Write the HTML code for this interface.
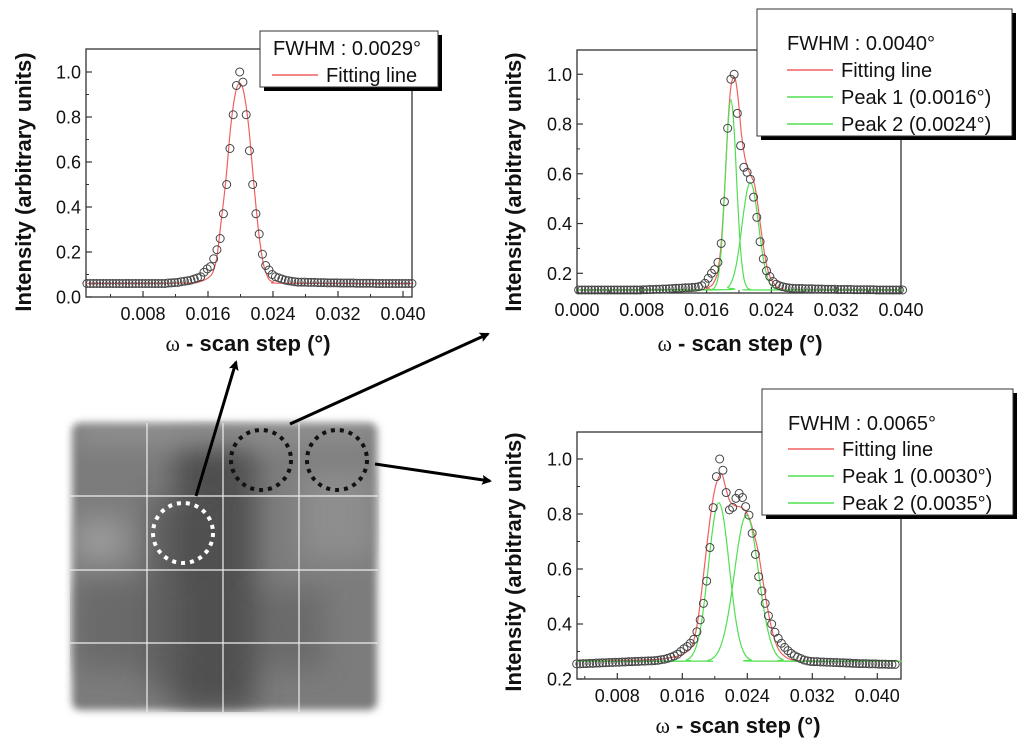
<!DOCTYPE html>
<html><head><meta charset="utf-8"><style>
html,body{margin:0;padding:0;background:#fff;}
svg{display:block;font-family:"Liberation Sans",sans-serif;}
</style></head><body>
<svg id="fig" width="1024" height="746" viewBox="0 0 1024 746" xmlns="http://www.w3.org/2000/svg">
<defs>
<filter id="blur" x="-10%" y="-10%" width="120%" height="120%"><feGaussianBlur stdDeviation="4"/></filter>
<filter id="blur2" x="-30%" y="-30%" width="160%" height="160%"><feGaussianBlur stdDeviation="14"/></filter>
<clipPath id="imgclip"><rect x="70" y="421" width="309" height="291" rx="10"/></clipPath>
<marker id="ah" markerWidth="10" markerHeight="10" refX="8" refY="5" orient="auto" markerUnits="userSpaceOnUse"><path d="M0,0 L10,5 L0,10 L2,5 Z" fill="#000"/></marker>
</defs>
<g>
  <rect x="72" y="423" width="305" height="287" rx="8" fill="#7c7c7c" filter="url(#blur)"/>
  <g filter="url(#blur2)" clip-path="url(#imgclip)">
    <rect x="175" y="440" width="80" height="270" fill="#404040" opacity="0.75"/>
    <rect x="145" y="500" width="70" height="190" fill="#505050" opacity="0.6"/>
    <rect x="75" y="580" width="110" height="90" fill="#5e5e5e" opacity="0.6"/>
    <rect x="300" y="470" width="75" height="90" fill="#9a9a9a" opacity="0.6"/>
    <rect x="75" y="520" width="50" height="40" fill="#b0b0b0" opacity="0.6"/>
    <rect x="255" y="590" width="70" height="80" fill="#5a5a5a" opacity="0.5"/>
    <rect x="75" y="425" width="300" height="12" fill="#c4c4c4" opacity="0.6"/>
  </g>
  <g stroke="#eee" stroke-width="1.2">
    <line x1="147" y1="423" x2="147" y2="712"/><line x1="223" y1="423" x2="223" y2="712"/><line x1="299" y1="423" x2="299" y2="712"/>
    <line x1="70" y1="496" x2="378" y2="496"/><line x1="70" y1="570" x2="378" y2="570"/><line x1="70" y1="643" x2="378" y2="643"/>
  </g>
  <circle cx="183" cy="533" r="30" fill="none" stroke="#fff" stroke-width="4" stroke-dasharray="4,5"/>
  <circle cx="261" cy="460" r="30" fill="none" stroke="#111" stroke-width="4" stroke-dasharray="4,5"/>
  <circle cx="337" cy="460" r="30" fill="none" stroke="#111" stroke-width="4" stroke-dasharray="4,5"/>
</g>
<g stroke="#000" stroke-width="3" fill="none">
  <line x1="196" y1="496" x2="236" y2="362" marker-end="url(#ah)"/>
  <line x1="290" y1="424" x2="488" y2="334" marker-end="url(#ah)"/>
  <line x1="375" y1="464" x2="490" y2="481" marker-end="url(#ah)"/>
</g>
</svg>
<script>
// ---- Data (x in units of 0.0001 degree) ----
const c1X = [11,15,19,23,27,31,35,39,43,47,51,55,59,63,67,71,75,79,83,87,91,95,99,103,107,111,115,119,123,127,131,135,139,143,147,151,155,159,163,167,171,175,179,183,187,191,195,199,203,207,211,215,219,223,227,231,235,239,243,247,251,255,259,263,267,271,275,279,283,287,291,295,299,303,307,311,315,319,323,327,331,335,339,343,347,351,355,359,363,367,371,375,379,383,387,391,395,399,403,407,411];
const c1Y = [.06,.06,.06,.06,.06,.06,.06,.06,.06,.06,.06,.06,.06,.06,.06,.06,.06,.06,.06,.06,.06,.06,.06,.06,.06,.062,.063,.064,.065,.068,.07,.072,.075,.08,.085,.09,.11,.125,.135,.17,.21,.26,.37,.50,.66,.81,.94,1.0,.955,.81,.65,.50,.37,.28,.19,.14,.12,.10,.09,.085,.08,.075,.072,.07,.068,.066,.066,.066,.065,.065,.065,.064,.064,.064,.063,.063,.063,.063,.062,.062,.062,.062,.062,.061,.061,.061,.061,.061,.061,.06,.06,.06,.06,.06,.06,.06,.06,.06,.06,.06,.06];
const c1FitX = [11,130,150,160,166,171,176,182,188,194,199,204,210,216,222,228,234,240,255,411];
const c1FitY = [.06,.062,.068,.085,.11,.18,.33,.52,.76,.91,.95,.91,.76,.52,.30,.15,.085,.068,.061,.06];

const c2X = [2,6,10,14,18,22,26,30,34,38,42,46,50,54,58,62,66,70,74,78,82,86,90,94,98,102,106,110,114,118,122,126,130,134,138,142,146,150,154,158,162,166,170,174,178,182,186,190,194,198,202,206,210,214,218,222,226,230,234,238,242,246,250,254,258,262,266,270,274,278,282,286,290,294,298,302,306,310,314,318,322,326,330,334,338,342,346,350,354,358,362,366,370,374,378,382,386,390,394,398,402];
const c2Y = [.133,.133,.133,.133,.133,.133,.133,.133,.133,.133,.133,.133,.133,.133,.133,.133,.133,.133,.133,.133,.134,.134,.135,.135,.136,.136,.137,.137,.138,.139,.14,.14,.141,.142,.142,.143,.144,.146,.15,.16,.18,.2,.215,.244,.32,.488,.783,.98,1.0,.843,.713,.626,.606,.578,.506,.425,.327,.258,.21,.187,.167,.156,.15,.146,.143,.141,.14,.139,.139,.139,.138,.138,.138,.137,.137,.137,.136,.136,.136,.136,.135,.135,.135,.135,.135,.134,.134,.134,.134,.134,.134,.134,.133,.133,.133,.133,.133,.133,.133,.133,.133];
const c2FitX = [2,150,160,166,170,174,178,182,186,190,195,199,203,207,211,215,219,223,227,231,235,239,243,247,255,265,402];
const c2FitY = [.133,.135,.14,.15,.17,.21,.32,.52,.78,.95,.984,.90,.76,.67,.62,.59,.56,.48,.38,.29,.22,.18,.16,.145,.136,.133,.133];
const c2P1X = [2,160,166,170,174,178,182,186,190,194,198,202,206,210,214,220,402];
const c2P1Y = [.133,.133,.135,.143,.181,.293,.515,.776,.897,.776,.515,.293,.181,.143,.135,.133,.133];
const c2P2X = [2,180,186,190,194,198,202,206,210,214,218,222,226,230,234,238,242,248,260,402];
const c2P2Y = [.133,.134,.143,.16,.196,.259,.349,.451,.533,.565,.533,.451,.349,.259,.196,.16,.143,.135,.133,.133];

const c3X = [30,34,38,42,46,50,54,58,62,66,70,74,78,82,86,90,94,98,102,106,110,114,118,122,126,130,134,138,142,146,150,154,158,162,166,170,174,178,182,186,190,194,198,202,206,210,214,218,222,226,230,234,238,242,246,250,254,258,262,266,270,274,278,282,286,290,294,298,302,306,310,314,318,322,326,330,334,338,342,346,350,354,358,362,366,370,374,378,382,386,390,394,398,402,406,410,414,418,422];
const c3Y = [.255,.255,.256,.256,.257,.257,.258,.258,.259,.259,.26,.26,.261,.261,.262,.262,.263,.263,.264,.264,.265,.265,.266,.266,.267,.268,.27,.272,.275,.279,.284,.29,.30,.31,.318,.33,.344,.372,.415,.475,.556,.678,.823,.936,1.0,.959,.878,.815,.824,.857,.875,.86,.827,.796,.73,.653,.572,.52,.475,.43,.40,.37,.348,.33,.315,.303,.293,.285,.279,.274,.269,.266,.264,.263,.263,.262,.262,.261,.261,.26,.26,.259,.259,.258,.258,.257,.257,.256,.256,.256,.255,.255,.255,.254,.254,.254,.253,.253,.253];
const c3FitX = [30,120,150,160,170,175,180,185,190,195,200,205,209,213,218,222,226,232,238,243,248,253,258,263,268,273,278,285,295,320,430];
const c3FitY = [.265,.27,.28,.29,.31,.35,.43,.55,.68,.80,.89,.935,.944,.9,.85,.835,.829,.825,.81,.78,.73,.67,.58,.49,.41,.35,.31,.285,.27,.265,.265];
const c3P1X = [30,160,165,170,175,180,185,190,195,200,205,210,215,220,225,230,235,240,245,250,430];
const c3P1Y = [.265,.265,.269,.278,.301,.349,.433,.553,.688,.798,.841,.798,.688,.553,.433,.349,.301,.278,.269,.265,.265];
const c3P2X = [30,185,189,194,199,204,209,214,219,224,229,234,239,244,249,254,259,264,269,274,279,284,289,430];
const c3P2Y = [.265,.265,.265,.27,.279,.298,.335,.395,.48,.584,.688,.767,.796,.767,.688,.584,.48,.395,.335,.298,.279,.27,.265,.265];

const c1XTicks = ['0.008','0.016','0.024','0.032','0.040'];
const c1YTicks = ['0.0','0.2','0.4','0.6','0.8','1.0'];
const c2XTicks = ['0.000','0.008','0.016','0.024','0.032','0.040'];
const c2YTicks = ['0.2','0.4','0.6','0.8','1.0'];
const c3XTicks = ['0.008','0.016','0.024','0.032','0.040'];
const c3YTicks = ['0.2','0.4','0.6','0.8','1.0'];

const NS='http://www.w3.org/2000/svg';
const svg=document.getElementById('fig');
function mk(tag,attrs,parent){const e=document.createElementNS(NS,tag);for(const k in attrs)e.setAttribute(k,attrs[k]);(parent||svg).appendChild(e);return e;}
function smooth(pts){let d='M'+pts[0][0].toFixed(2)+','+pts[0][1].toFixed(2);
  for(let i=0;i<pts.length-1;i++){const p0=pts[i-1]||pts[i],p1=pts[i],p2=pts[i+1],p3=pts[i+2]||p2;
    const c1x=p1[0]+(p2[0]-p0[0])/6,c1y=p1[1]+(p2[1]-p0[1])/6,c2x=p2[0]-(p3[0]-p1[0])/6,c2y=p2[1]-(p3[1]-p1[1])/6;
    d+=' C'+c1x.toFixed(2)+','+c1y.toFixed(2)+' '+c2x.toFixed(2)+','+c2y.toFixed(2)+' '+p2[0].toFixed(2)+','+p2[1].toFixed(2);}
  return d;}

function chart(cfg){
  const g=mk('g',{});
  
  
  const X=v=>cfg.x0+v*1e-4*cfg.xs, Y=v=>cfg.yb-(v-cfg.ymin)*cfg.ys;
  const fr=mk('rect',{x:cfg.L,y:cfg.T,width:cfg.R-cfg.L,height:cfg.B-cfg.T,fill:'none',stroke:'#333','stroke-width':1.3},g);
  
  
  cfg.xt.forEach(t=>{const v=parseFloat(t)*1e4;const px=X(v);
    mk('line',{x1:px,y1:cfg.B,x2:px,y2:cfg.B-6,stroke:'#333','stroke-width':1.2},g);
    const mx=X(v+40); if(mx<cfg.R-2) mk('line',{x1:mx,y1:cfg.B,x2:mx,y2:cfg.B-3,stroke:'#333'},g);
    const mx2=X(v-40); if(mx2>cfg.L+2&&cfg.xt.indexOf(t)===0) mk('line',{x1:mx2,y1:cfg.B,x2:mx2,y2:cfg.B-3,stroke:'#333'},g);
    const tx=mk('text',{x:px,y:cfg.B+23,'font-size':18,'text-anchor':'middle',fill:'#111'},g);tx.textContent=t;
    
    });
  cfg.yt.forEach(t=>{const v=parseFloat(t);const py=Y(v);
    mk('line',{x1:cfg.L,y1:py,x2:cfg.L+6,y2:py,stroke:'#333','stroke-width':1.2},g);
    const my=Y(v+0.1); if(my>cfg.T+2) mk('line',{x1:cfg.L,y1:my,x2:cfg.L+3,y2:my,stroke:'#333'},g);
    const ty=mk('text',{x:cfg.L-5,y:py+6.5,'font-size':18,'text-anchor':'end',fill:'#111'},g);ty.textContent=t;
    
    });
  cfg.lines.forEach(ln=>{const pts=ln.x.map((v,i)=>[X(v),Y(ln.y[i])]);
    const p=mk('path',{d:smooth(pts),fill:'none',stroke:ln.c,'stroke-width':1.2},g);
    
    });
  const pg=mk('g',{},g);
  
  
  cfg.px.forEach((v,i)=>{const c=mk('circle',{cx:X(v),cy:Y(cfg.py[i]),r:4,fill:'none',stroke:'#444','stroke-width':1},pg);
    
    });
  const yt=mk('text',{x:0,y:0,transform:'translate('+cfg.ytx+','+cfg.yty+') rotate(-90)','font-size':22,'font-weight':'bold','text-anchor':'middle',fill:'#111'},g);
  yt.textContent='Intensity (arbitrary units)';
  
  
  const xt=mk('text',{x:cfg.xtx,y:cfg.xty,'font-size':22,'font-weight':'bold','text-anchor':'middle',fill:'#111'},g);
  xt.innerHTML='<tspan font-family="Liberation Serif, serif" font-weight="normal">ω</tspan> - scan step (°)';
  
  
  const lg=mk('g',{},g);
  
  
  const b=cfg.leg;
  mk('rect',{x:b.x+4,y:b.y+4,width:b.w,height:b.h,fill:'#000'},lg);
  mk('rect',{x:b.x,y:b.y,width:b.w,height:b.h,fill:'#fff',stroke:'#333','stroke-width':1},lg);
  const ft=mk('text',{x:b.tx0,y:b.fy,'font-size':20,fill:'#111'},lg);ft.textContent=b.fw;
  
  
  b.rows.forEach((r,i)=>{const yy=b.ry+i*27;
    mk('line',{x1:b.lx,y1:yy,x2:b.lx+46,y2:yy,stroke:r.c,'stroke-width':1.5},lg);
    const t=mk('text',{x:b.lx+54,y:yy+7,'font-size':20,fill:'#111'},lg);t.textContent=r.t;
    
    });
}
const RED='#f06060',GRN='#50e050';
chart({name:'chart-single-peak',L:86,R:412,T:49,B:297,x0:78,xs:65/0.008,yb:297,ymin:0,ys:225,
  xt:c1XTicks,yt:c1YTicks,px:c1X,py:c1Y,
  lines:[{x:c1FitX,y:c1FitY,c:RED,name:'fitting-line'}],
  ytx:31,yty:182,xtx:248,xty:351,
  leg:{x:260,y:31,w:178,h:56,tx0:273,fy:55,fw:'FWHM : 0.0029°',lx:272,ry:75,rows:[{t:'Fitting line',c:RED}]}});
chart({name:'chart-double-peak-a',L:577,R:901,T:50,B:293,x0:577,xs:324/0.04,yb:273.3,ymin:0.2,ys:248.8,
  xt:c2XTicks,yt:c2YTicks,px:c2X,py:c2Y,
  lines:[{x:c2FitX,y:c2FitY,c:RED,name:'fitting-line'},{x:c2P1X,y:c2P1Y,c:GRN,name:'peak-1-line'},{x:c2P2X,y:c2P2Y,c:GRN,name:'peak-2-line'}],
  ytx:521,yty:182,xtx:740,xty:351,
  leg:{x:757,y:9,w:255,h:127,tx0:787,fy:50,fw:'FWHM : 0.0040°',lx:787,ry:70,rows:[{t:'Fitting line',c:RED},{t:'Peak 1 (0.0016°)',c:GRN},{t:'Peak 2 (0.0024°)',c:GRN}]}});
chart({name:'chart-double-peak-b',L:577,R:901,T:432,B:679,x0:552.3,xs:65/0.008,yb:679,ymin:0.2,ys:275,
  xt:c3XTicks,yt:c3YTicks,px:c3X,py:c3Y,
  lines:[{x:c3FitX,y:c3FitY,c:RED,name:'fitting-line'},{x:c3P1X,y:c3P1Y,c:GRN,name:'peak-1-line'},{x:c3P2X,y:c3P2Y,c:GRN,name:'peak-2-line'}],
  ytx:521,yty:562,xtx:738,xty:733,
  leg:{x:762,y:389,w:251,h:126,tx0:788,fy:430,fw:'FWHM : 0.0065°',lx:788,ry:449,rows:[{t:'Fitting line',c:RED},{t:'Peak 1 (0.0030°)',c:GRN},{t:'Peak 2 (0.0035°)',c:GRN}]}});
</script>
</body></html>
